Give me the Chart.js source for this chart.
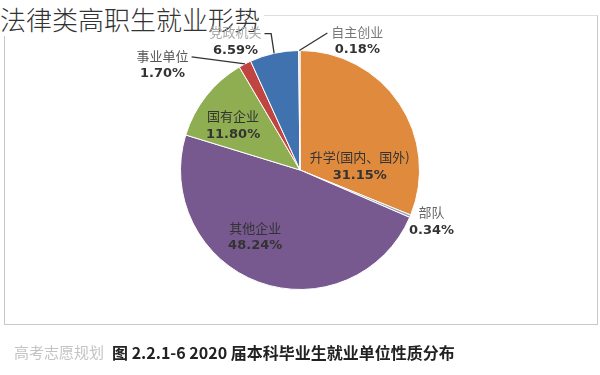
<!DOCTYPE html>
<html>
<head>
    <meta charset="utf-8">
    <title>法律类高职生就业形势</title>
    <style>
        body {
            margin: 0;
            width: 600px;
            height: 375px;
            background: #fff;
            position: relative;
            overflow: hidden;
            font-family: "Noto Sans CJK SC", sans-serif;
        }
        .frame {
            position: absolute;
            left: 4px;
            top: 15px;
            width: 592px;
            height: 308px;
            border: 1px solid #c8c8c8;
            border-top-color: #dedede;
        }
        .title {
            position: absolute;
            left: 0;
            top: 0;
            padding: 0 4px 0 0;
            background: #fff;
            font-size: 26px;
            font-weight: 300;
            color: #333;
            line-height: 38px;
            height: 36px;
        }
        canvas {
            position: absolute;
            left: 0;
            top: 0;
        }
        .caption {
            position: absolute;
            left: 112px;
            top: 340px;
            font-size: 16px;
            font-weight: 700;
            color: #222;
            white-space: nowrap;
        }
        .mark {
            position: absolute;
            left: 14px;
            top: 341px;
            font-size: 15px;
            color: #c4c4c4;
            white-space: nowrap;
        }
    </style>
</head>
<body>
    <div class="frame"></div>
    <div class="title">法律类高职生就业形势</div>
    <canvas id="pieChart" width="600" height="375"></canvas>
    <div class="mark">高考志愿规划</div>
    <div class="caption">图 2.2.1-6 2020 届本科毕业生就业单位性质分布</div>

    <script src="https://cdn.jsdelivr.net/npm/chart.js"></script>
    <script>
        // slices in clockwise order from 12 o'clock, as in the picture
        const categories = ['升学(国内、国外)', '部队', '其他企业', '国有企业', '事业单位', '党政机关', '自主创业'];
        const shares = [31.15, 0.34, 48.24, 11.80, 1.70, 6.59, 0.18];
        const valueLabels = ['31.15%', '0.34%', '48.24%', '11.80%', '1.70%', '6.59%', '0.18%'];

        const colors = ['#e08a3e', '#8fa3bd', '#77598f', '#8fae52', '#c0443f', '#3f72af', '#c9cfdc'];
        const nameColors = ['#333', '#666', '#333', '#333', '#555', '#aaa', '#777'];

        // label placement, in units of the pie radius from its centre
        // leader: null = inside label, 'left'/'right' = side of the name the line goes to
        const labelLayout = [
            { dx: 0.50, dy: -0.03, leader: null },
            { dx: 1.10, dy: 0.43, leader: null },
            { dx: -0.375, dy: 0.56, leader: null },
            { dx: -0.56, dy: -0.375, leader: null },
            { dx: -1.15, dy: -0.88, leader: 'right' },
            { dx: -0.54, dy: -1.075, leader: 'right', elbow: true },
            { dx: 0.48, dy: -1.08, leader: 'left' }
        ];

        const pieLabels = {
            id: 'pieLabels',
            afterDatasetsDraw(chart) {
                const ctx = chart.ctx;
                const arcs = chart.getDatasetMeta(0).data;
                ctx.save();
                ctx.textAlign = 'center';
                ctx.textBaseline = 'middle';
                arcs.forEach((arc, i) => {
                    const lay = labelLayout[i];
                    const r = arc.outerRadius;
                    const cx = arc.x + lay.dx * r;
                    const cy = arc.y + lay.dy * r;
                    const nameY = cy - 9;
                    const valY = cy + 9;

                    ctx.font = '13px "Noto Sans CJK SC"';
                    const nameW = ctx.measureText(categories[i]).width;
                    ctx.fillStyle = nameColors[i];
                    ctx.fillText(categories[i], cx, nameY);
                    ctx.font = 'bold 13px "DejaVu Sans"';
                    ctx.fillStyle = '#333';
                    ctx.fillText(valueLabels[i], cx, valY);

                    if (lay.leader) {
                        const mid = (arc.startAngle + arc.endAngle) / 2;
                        const ex = arc.x + Math.cos(mid) * r;
                        const ey = arc.y + Math.sin(mid) * r;
                        const endX = lay.leader === 'right' ? cx + nameW / 2 + 3 : cx - nameW / 2 - 4;
                        ctx.strokeStyle = '#333';
                        ctx.lineWidth = 1.3;
                        ctx.beginPath();
                        ctx.moveTo(ex, ey);
                        if (lay.elbow) ctx.lineTo(ex - 3, nameY + 1);
                        ctx.lineTo(endX, nameY + 1);
                        ctx.stroke();
                    }
                });
                ctx.restore();
            }
        };

        new Chart(document.getElementById('pieChart'), {
            type: 'pie',
            data: {
                labels: categories,
                datasets: [{
                    data: shares,
                    backgroundColor: colors,
                    borderColor: '#ffffff',
                    borderWidth: 1
                }]
            },
            options: {
                responsive: false,
                animation: false,
                layout: { padding: { top: 50, bottom: 85, left: 0, right: 0 } },
                plugins: {
                    legend: { display: false },
                    tooltip: { enabled: false }
                }
            },
            plugins: [pieLabels]
        });
    </script>
</body>
</html>
